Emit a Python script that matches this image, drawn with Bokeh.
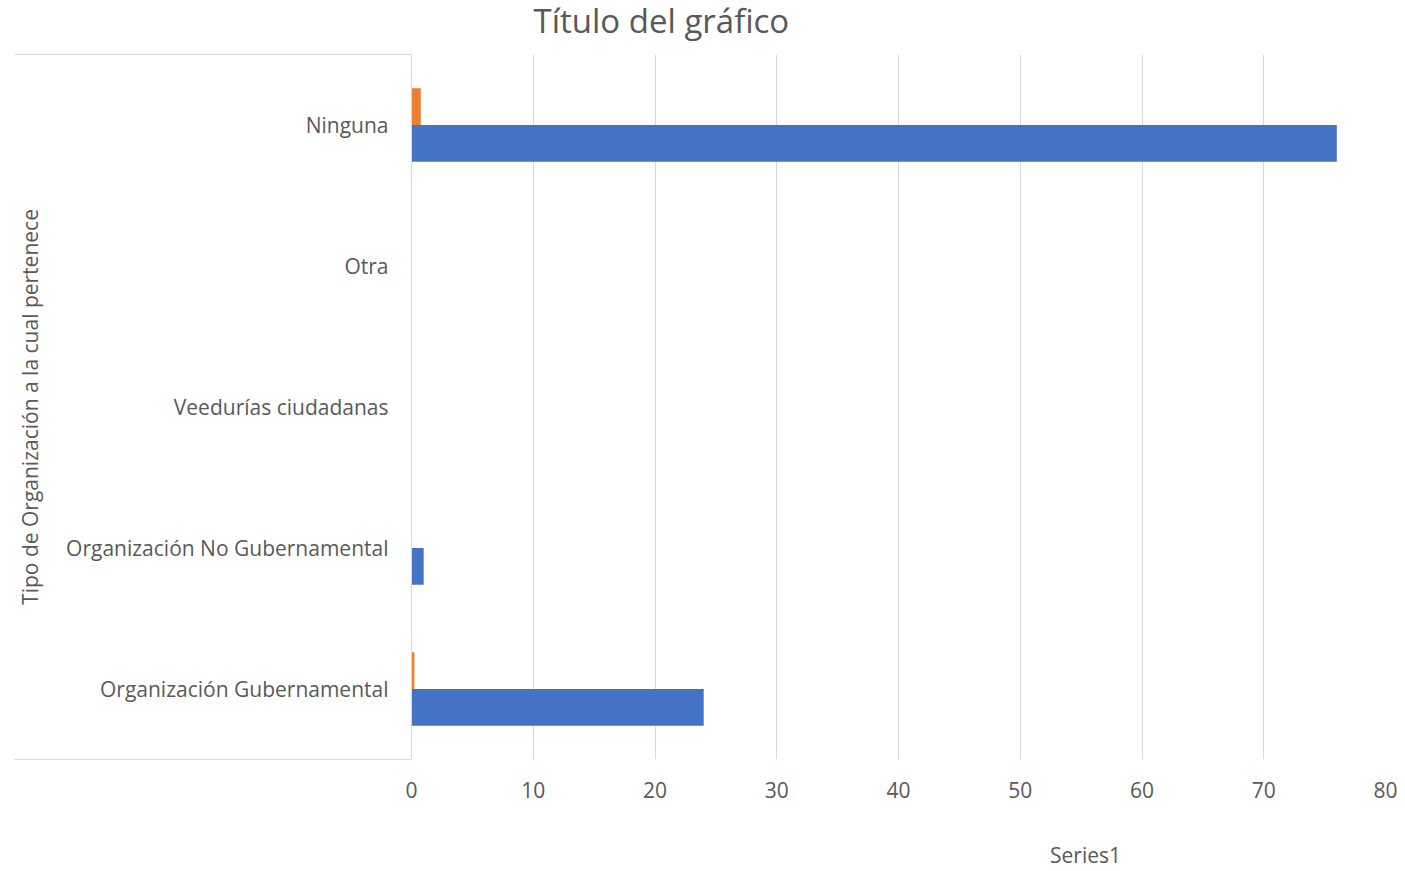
from bokeh.plotting import figure
from bokeh.layouts import column
from bokeh.models import Range1d, Legend, LegendItem, FixedTicker, ColumnDataSource
from bokeh.transform import dodge
from bokeh.embed import file_html
from bokeh.resources import INLINE

categories = ["Organización Gubernamental", "Organización No Gubernamental",
              "Veedurías ciudadanas", "Otra", "Ninguna"]
series1 = [24, 1, 0, 0, 76]
series2 = [0.24, 0, 0, 0, 0.76]
x_ticks = [0, 10, 20, 30, 40, 50, 60, 70, 80]

BLUE = "#4472C4"
ORANGE = "#ED7D31"
GRID = "#d9d9d9"
TXT = "#595959"
FONT = "Open Sans"

SHIFT = 12  # page is lifted so the title can sit close to the top edge

n = len(categories)
centers = [i + 0.5 for i in range(n)]
src = ColumnDataSource(dict(pos=centers, cat=categories, s1=series1, s2=series2))

p = figure(y_range=Range1d(0, n), x_range=Range1d(0, 80),
           frame_width=974, frame_height=705,
           min_border_left=411, min_border_right=12,
           min_border_top=54 + SHIFT, min_border_bottom=50,
           output_backend="svg", toolbar_location=None,
           title="Título del gráfico")

r1 = p.hbar(y=dodge("pos", -0.13), right="s1", left=0,
            height=0.26, source=src, color=BLUE, line_color=None)
r2 = p.hbar(y=dodge("pos", 0.13), right="s2", left=0,
            height=0.26, source=src, color=ORANGE, line_color=None)

p.title.text_font = FONT
p.title.text_font_size = "33px"
p.title.text_font_style = "normal"
p.title.text_color = TXT
p.title.align = "left"
p.title.offset = 122
p.title.vertical_align = "top"
p.title.standoff = 19

p.outline_line_color = None
p.ygrid.grid_line_color = None
p.xgrid.grid_line_color = GRID
p.xgrid.grid_line_width = 1

p.xaxis.ticker = x_ticks
p.xaxis.axis_line_color = None
p.xaxis.major_tick_line_color = None
p.xaxis.minor_tick_line_color = None
p.xaxis.major_label_standoff = 16
p.xaxis.major_label_text_font = FONT
p.xaxis.major_label_text_font_size = "21px"
p.xaxis.major_label_text_color = TXT

# category axis: labels at band centres, long minor ticks at band edges
p.yaxis.ticker = FixedTicker(ticks=centers, minor_ticks=[0, n])
p.yaxis.major_label_overrides = {c: lab for c, lab in zip(centers, categories)}
p.yaxis.axis_line_color = GRID
p.yaxis.major_tick_line_color = None
p.yaxis.major_tick_in = 0
p.yaxis.major_tick_out = 0
p.yaxis.minor_tick_line_color = GRID
p.yaxis.minor_tick_in = 0
p.yaxis.minor_tick_out = 397
p.yaxis.major_label_standoff = 23 - 397
p.yaxis.major_label_text_font = FONT
p.yaxis.major_label_text_font_size = "21px"
p.yaxis.major_label_text_color = TXT
p.yaxis.axis_label = "Tipo de Organización a la cual pertenece"
p.yaxis.axis_label_text_font = FONT
p.yaxis.axis_label_text_font_size = "21px"
p.yaxis.axis_label_text_font_style = "normal"
p.yaxis.axis_label_text_color = TXT
p.yaxis.axis_label_standoff = 19

# legend strip below the chart
lf = figure(width=1397, height=60, x_range=Range1d(0, 1), y_range=Range1d(0, 1),
            x_axis_location=None, y_axis_location=None, min_border=0,
            output_backend="svg", toolbar_location=None)
lf.outline_line_color = None
lf.grid.visible = False
swatch = lf.hbar(y=[], right=[], left=0, height=0.5, color=BLUE, line_color=None)

legend = Legend(items=[LegendItem(label="Series1", renderers=[swatch])],
                location=(621, 0), orientation="horizontal",
                padding=0, margin=0, border_line_color=None,
                background_fill_alpha=0, glyph_width=12, glyph_height=12,
                label_standoff=6, label_text_font=FONT,
                label_text_font_size="21px", label_text_color=TXT)
lf.add_layout(legend, "center")

layout = column(p, lf)
layout.styles = {"margin-top": f"-{SHIFT}px"}

open("out.html", "w").write(file_html(layout, INLINE))
